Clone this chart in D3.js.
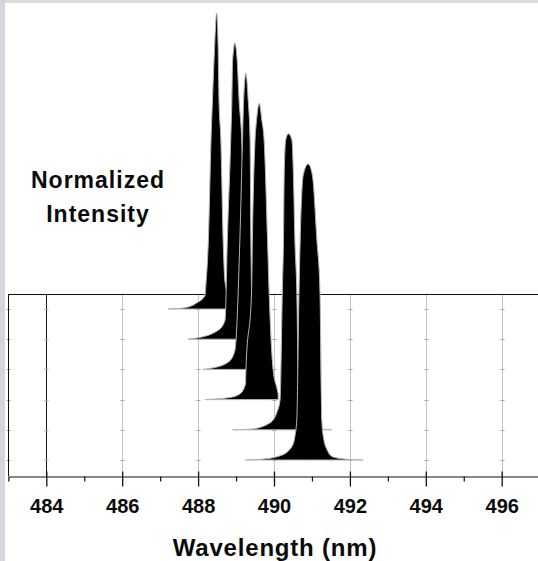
<!DOCTYPE html>
<html>
<head>
<meta charset="utf-8">
<script src="https://cdn.jsdelivr.net/npm/d3@7/dist/d3.min.js"></script>
<style>
  html, body { margin: 0; padding: 0; background: #fff; }
  svg { display: block; }
  text { font-family: "Liberation Sans", Arial, Helvetica, sans-serif; font-weight: bold; }
</style>
</head>
<body>
<svg id="chart" width="538" height="561"></svg>
<script>
// Tick values and labels
const majorTicks = [484, 486, 488, 490, 492, 494, 496];
const minorTicks = [483, 485, 487, 489, 491, 493, 495, 497];
const yTitleLines = ["Normalized", "Intensity"];
const xTitle = "Wavelength (nm)";

// Normalized emission spectra, [wavelength (nm), intensity], back to front
const spectrum1 = [[487.21,0],[487.60,0.003],[487.96,0.02],[488.18,0.045],[488.21,0.09],[488.27,0.23],[488.34,0.57],[488.38,0.71],[488.43,0.87],[488.49,1.0],[488.53,0.87],[488.55,0.71],[488.60,0.57],[488.66,0.23],[488.71,0.09],[488.84,0.03],[489.10,0.005],[489.37,0]];
const spectrum2 = [[487.74,0],[487.92,0.003],[488.53,0.03],[488.71,0.064],[488.77,0.334],[488.86,0.672],[488.89,0.807],[488.91,0.94],[488.97,1.0],[489.03,0.94],[489.08,0.807],[489.15,0.672],[489.22,0.334],[489.29,0.064],[489.42,0.014],[489.68,0]];
const spectrum3 = [[488.12,0],[488.31,0.003],[488.80,0.025],[488.97,0.064],[489.10,0.436],[489.17,0.774],[489.20,0.909],[489.26,1.0],[489.32,0.909],[489.37,0.774],[489.39,0.436],[489.45,0.1],[489.53,0.03],[489.68,0.003],[489.95,0]];
const spectrum4 = [[488.18,0],[488.45,0.002],[488.84,0.007],[489.10,0.019],[489.25,0.053],[489.26,0.098],[489.41,0.368],[489.43,0.537],[489.50,0.875],[489.54,0.943],[489.61,1.0],[489.68,0.943],[489.74,0.875],[489.83,0.537],[489.87,0.368],[489.98,0.098],[490.07,0.042],[490.11,0.02]];
const spectrum5 = [[488.91,0],[489.37,0.002],[489.89,0.023],[490.07,0.057],[490.16,0.101],[490.22,0.473],[490.25,0.642],[490.27,0.868],[490.31,0.98],[490.38,1.0],[490.47,0.98],[490.51,0.868],[490.55,0.642],[490.60,0.473],[490.65,0.1],[490.76,0.03],[491.08,0.007],[491.52,0]];
const spectrum6 = [[489.24,0],[489.63,0.002],[490.16,0.014],[490.47,0.045],[490.55,0.079],[490.60,0.135],[490.66,0.574],[490.69,0.743],[490.77,0.963],[490.90,1.0],[491.01,0.963],[491.13,0.743],[491.21,0.574],[491.26,0.135],[491.30,0.079],[491.40,0.034],[491.56,0.01],[491.96,0.002],[492.35,0]];
const spectra = [spectrum1, spectrum2, spectrum3, spectrum4, spectrum5, spectrum6];

const W = 538, H = 561;
const svg = d3.select("#chart");

// window frame strips
svg.append("rect").attr("width", W).attr("height", H).attr("fill", "#fff");
svg.append("rect").attr("x", 0).attr("y", 0).attr("width", W).attr("height", 3).attr("fill", "#dadada");
svg.append("rect").attr("x", 0).attr("y", 0).attr("width", 5).attr("height", H).attr("fill", "#d5d5dd");

// scales
const x = d3.scaleLinear().domain([483, 497]).range([8.35, 539.65]);
const depth = d3.scaleLinear().domain([0, spectra.length - 1]).range([309, 460]);
const inten = d3.scaleLinear().domain([0, 1]).range([0, 296]);
const plotTop = 294, plotBottom = 476;
const px = v => Math.round(x(v)) + 0.5;

// back wall grid
const grid = svg.append("g");
majorTicks.forEach((v, i) => {
  grid.append("line")
    .attr("x1", px(v)).attr("x2", px(v))
    .attr("y1", plotTop).attr("y2", plotBottom)
    .attr("stroke", i === 0 ? "#1a1a1a" : "#c4c4c4")
    .attr("stroke-width", 1);
});
// small marks where each spectrum level meets the grid
const markXs = [x(483)].concat(majorTicks.map(x));
spectra.forEach((s, i) => {
  const yy = Math.round(depth(i)) + 0.5;
  markXs.forEach(mx => {
    grid.append("line")
      .attr("x1", Math.round(mx) - 1.5).attr("x2", Math.round(mx) + 2.5)
      .attr("y1", yy).attr("y2", yy)
      .attr("stroke", "#a8a8a8").attr("stroke-width", 1);
  });
});

// frame: top and left edges
svg.append("line").attr("x1", px(483)).attr("x2", W).attr("y1", plotTop + 0.5).attr("y2", plotTop + 0.5)
  .attr("stroke", "#111").attr("stroke-width", 1);
svg.append("line").attr("x1", px(483)).attr("x2", px(483)).attr("y1", plotTop).attr("y2", plotBottom)
  .attr("stroke", "#111").attr("stroke-width", 1);

// spectra, back to front
const area = d3.area()
  .curve(d3.curveMonotoneX)
  .x(d => x(d[0]));
spectra.forEach((s, i) => {
  const base = depth(i);
  area.y0(base).y1(d => base - inten(d[1]));
  svg.append("path")
    .datum(s)
    .attr("d", area)
    .attr("fill", "#000")
    .attr("stroke", "#b4b4b4")
    .attr("stroke-width", 1)
    .attr("stroke-linejoin", "round");
});

// x axis
const axisG = svg.append("g").attr("transform", `translate(0,${plotBottom + 0.5})`);
axisG.call(d3.axisBottom(x).tickValues(majorTicks).tickSizeInner(10).tickSizeOuter(0)
  .tickPadding(12).tickFormat(d3.format("d")));
axisG.select(".domain").attr("stroke", "#111").attr("stroke-width", 1.2);
axisG.selectAll(".tick line").attr("stroke", "#111").attr("stroke-width", 1.3).attr("y1", -5);
axisG.selectAll(".tick text").attr("fill", "#0a0a0a").attr("font-size", 20)
  .attr("font-family", "'Liberation Sans', Arial, sans-serif").attr("font-weight", "bold");

const minorG = svg.append("g").attr("transform", `translate(0,${plotBottom + 0.5})`);
minorG.call(d3.axisBottom(x).tickValues(minorTicks).tickSizeInner(5).tickSizeOuter(0).tickFormat(""));
minorG.select(".domain").remove();
minorG.selectAll(".tick line").attr("stroke", "#111").attr("stroke-width", 1.2);

// titles
const yt = svg.append("text")
  .attr("text-anchor", "middle")
  .attr("font-size", 23)
  .attr("letter-spacing", 1.0)
  .attr("fill", "#0a0a0a");
yTitleLines.forEach((t, i) => {
  yt.append("tspan").attr("x", 98).attr("y", 188 + i * 34).text(t);
});

svg.append("text")
  .attr("x", 275).attr("y", 556)
  .attr("text-anchor", "middle")
  .attr("font-size", 24)
  .attr("letter-spacing", 0.8)
  .attr("fill", "#0a0a0a")
  .text(xTitle);
</script>
</body>
</html>
